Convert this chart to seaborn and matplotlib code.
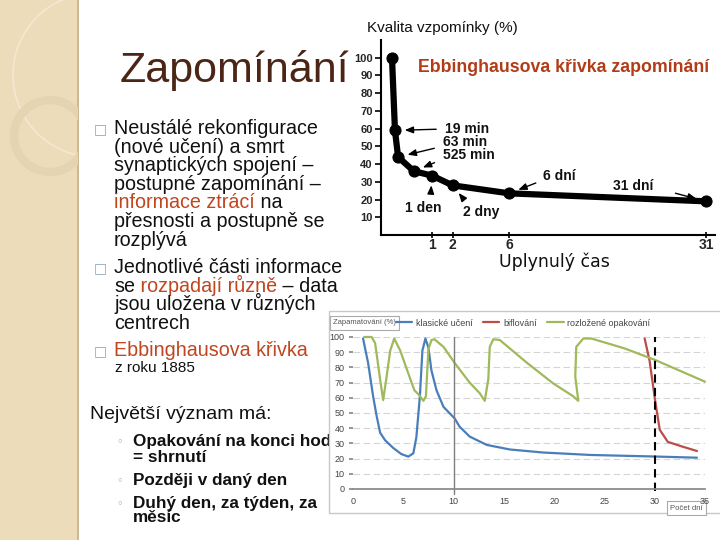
import numpy as np
import pandas as pd
import matplotlib
matplotlib.use('Agg')
import matplotlib.pyplot as plt
import seaborn as sns
from matplotlib.patches import Rectangle, Circle

# Ebbinghaus curve (top chart)
ebb_minutes = [0, 19, 63, 525, 1440, 2880, 8640, 44640]
ebb_recall = [100, 59, 44, 36, 33.5, 28, 23.5, 19]
ebb_notes = ['19 min', '63 min', '525 min', '1 den', '2 dny', '6 dní', '31 dní']
ebb_ticks = [1, 2, 6, 31]

# Excel chart (bottom) - three learning strategies
classic_day = [1.0, 1.5, 2.0, 2.35, 2.7, 3.2, 4.0, 4.8, 5.5, 6.0, 6.3, 6.65, 6.9, 7.2,
               7.5, 7.8, 8.3, 9.0, 10.1, 10.6, 11.6, 13.3, 15.6, 18.9, 23.6, 30.4, 34.2]
classic_val = [99, 83, 61, 48, 37, 32, 27, 23, 21.3, 23.5, 34, 61, 91, 99,
               93, 78, 65, 54, 46.5, 41, 34.5, 29, 26, 24, 22.4, 21.3, 20.6]
cram_day = [29.0, 29.5, 30.0, 30.5, 31.3, 32.7, 34.2]
cram_val = [99, 84, 60, 39, 31, 28, 25]
spaced_day = [1.1, 1.85, 2.2, 2.7, 3.0, 3.3, 3.7, 4.1, 4.7, 5.5, 6.1, 6.55, 7.0, 7.25,
              7.5, 7.8, 8.1, 9.0, 10.1, 11.6, 12.6, 13.1, 13.45, 13.6, 13.95, 14.6,
              17.3, 19.9, 21.9, 22.4, 22.1, 22.2, 22.9, 23.7, 27.0, 30.0, 35.0]
spaced_val = [100, 100, 96, 72, 58.5, 72, 91, 99, 91, 76, 65, 62, 58, 61,
              92, 98, 98.5, 93.5, 83, 70, 63, 58, 72, 93.5, 98.5, 98,
              83, 69.5, 61, 58, 74, 93.5, 99, 99, 92.5, 85, 70.6]
series_names = ['klasické učení', 'biflování', 'rozložené opakování']
series_colors = ['#4a7ebb', '#be4b48', '#9fb95b']

sns.set_theme(style='white')
plt.rcParams['font.family'] = ['Liberation Sans', 'DejaVu Sans']

RED = '#c0461f'
fig = plt.figure(figsize=(7.2, 5.4), dpi=100)

# ---- slide background (pixel coordinates) ----
bg = fig.add_axes([0, 0, 1, 1], zorder=0)
bg.set_xlim(0, 720)
bg.set_ylim(540, 0)
bg.axis('off')

strip = Rectangle((0, 0), 78, 540, fc='#ecdcb9', ec='none')
bg.add_patch(strip)
bg.add_patch(Rectangle((77, 0), 2, 540, fc='#cdb892', ec='none'))
c1 = Circle((95, 75), 82, fill=False, ec='#f3e8d2', lw=1.2)
c2 = Circle((50, 136), 36, fill=False, ec='#e4d4b2', lw=6)
for c in (c1, c2):
    bg.add_patch(c)
    c.set_clip_path(strip)

bg.text(120, 82, 'Zapomínání', fontsize=31, color='#4b2516', va='baseline')

renderer = fig.canvas.get_renderer()


def text_w(s, **kw):
    t = bg.text(0, 0, s + '|', **kw)
    w1 = t.get_window_extent(renderer).width
    t.remove()
    t = bg.text(0, 0, '|', **kw)
    w2 = t.get_window_extent(renderer).width
    t.remove()
    return w1 - w2


def rich_line(x, y, parts, **kw):
    pre = ''
    for s, col in parts:
        bg.text(x + text_w(pre, **kw), y, s, color=col, va='baseline', ha='left', zorder=3, **kw)
        pre += s


K = '#111111'
lines = [
    (134, [('Neustálé rekonfigurace', K)], True),
    (152.6, [('(nové učení) a smrt', K)], False),
    (171.2, [('synaptických spojení –', K)], False),
    (189.8, [('postupné zapomínání –', K)], False),
    (208.4, [('informace ztrácí', RED), (' na', K)], False),
    (227, [('přesnosti a postupně se', K)], False),
    (245.6, [('rozplývá', K)], False),
    (273, [('Jednotlivé části informace', K)], True),
    (291.6, [('se', K), (' rozpadají různě', RED), (' – data', K)], False),
    (310.2, [('jsou uložena v různých', K)], False),
    (328.8, [('centrech', K)], False),
    (356, [('Ebbinghausova křivka', RED)], True),
]
for y, parts, bullet in lines:
    rich_line(114, y, parts, fontsize=14.2)
    if bullet:
        bg.text(100, y - 5, '\u25a1', fontsize=10, color='#8ea6b9', ha='center', va='center',
                family='DejaVu Sans')
bg.text(115, 372, 'z roku 1885', fontsize=11, color=K, va='baseline')

bg.text(90, 419, 'Největší význam má:', fontsize=14, color=K, va='baseline')
sub = [(446, 'Opakování na konci hod', True), (462, '= shrnutí', False),
       (485, 'Později v daný den', True), (508, 'Duhý den, za týden, za', True),
       (522, 'měsíc', False)]
for y, s, b in sub:
    bg.text(133, y, s, fontsize=12.3, fontweight='bold', color=K, va='baseline', zorder=3)
    if b:
        bg.text(120, y - 4, '\u25e6', fontsize=8, color='#8ea6b9', ha='center', va='center',
                family='DejaVu Sans')

# frame of the bottom chart (covers the text underneath)
bg.add_patch(Rectangle((329, 311), 400, 202, fc='white', ec='#c8c8c8', lw=1, zorder=5))
bg.text(333, 323, 'Zapamatování (%)', fontsize=5.5, color='#555555', va='center', zorder=6,
        bbox=dict(boxstyle='square,pad=0.4', fc='white', ec='#aaaaaa', lw=0.8))
bg.text(670, 508, 'Počet dní', fontsize=5.5, color='#555555', va='center', zorder=6,
        bbox=dict(boxstyle='square,pad=0.4', fc='white', ec='#aaaaaa', lw=0.8))

# ---- top chart: Ebbinghaus curve ----
ax_top = fig.add_axes([381 / 720, 1 - 235 / 540, 334 / 720, 195 / 540], zorder=2)
ax_top.set_facecolor('none')
p = 0.6
ax_top.set_xscale('function', functions=(lambda v: np.sign(v) * np.abs(v) ** p,
                                         lambda v: np.sign(v) * np.abs(v) ** (1 / p)))
ebb = pd.DataFrame({'days': np.array(ebb_minutes) / 1440, 'recall': ebb_recall})
sns.lineplot(data=ebb, x='days', y='recall', ax=ax_top, color='black', lw=4.5,
             marker='o', markersize=8, markeredgecolor='black', clip_on=False)
ax_top.set_xlim(-0.116, 32.5)
ax_top.set_ylim(0, 110)
ax_top.set_xticks(ebb_ticks)
ax_top.set_xticklabels([str(t) for t in ebb_ticks], fontsize=10, fontweight='bold')
ax_top.set_yticks(range(10, 101, 10))
ax_top.set_yticklabels([str(t) for t in range(10, 101, 10)], fontsize=8, fontweight='bold')
ax_top.tick_params(axis='y', direction='out', length=4, width=1.2, color='black', pad=2, left=True)
ax_top.tick_params(axis='x', direction='inout', length=5, width=1.2, color='black', pad=0, bottom=True)
for s in ['top', 'right']:
    ax_top.spines[s].set_visible(False)
for s in ['left', 'bottom']:
    ax_top.spines[s].set_color('black')
    ax_top.spines[s].set_linewidth(1.5)
ax_top.set_xlabel('')
ax_top.set_ylabel('')
ax_top.grid(False)

bg.text(367, 32, 'Kvalita vzpomínky (%)', fontsize=11, color=K, va='baseline')
bg.text(564, 72, 'Ebbinghausova křivka zapomínání', fontsize=12.8, fontweight='bold',
        color='#b23c17', ha='center', va='baseline', zorder=6)
bg.text(554, 267, 'Uplynulý čas', fontsize=12.5, color=K, ha='center', va='baseline',
        family='DejaVu Sans')

ann = [  # (index of point, text pos, ha, relpos, shrinkA)
    (1, (445, 129), 'left', (0, 0.5), 4),
    (2, (443, 142), 'left', (0, 0.2), 4),
    (3, (443, 155), 'left', (0, 0.2), 4),
    (4, (423, 208), 'center', (0.7, 1), 3),
    (5, (481, 212), 'center', (0.15, 1), 3),
    (6, (543, 176), 'left', (0, 0.2), 3),
    (7, (613, 186), 'left', (1, 0.4), 14),
]
for (i, pos, ha, rp, sa), note in zip(ann, ebb_notes):
    ax_top.annotate(note, xy=(ebb['days'][i], ebb['recall'][i]), xytext=pos,
                    textcoords=bg.transData, ha=ha, va='center', fontsize=10,
                    fontweight='bold', color=K,
                    arrowprops=dict(arrowstyle='-|>,head_length=0.5,head_width=0.2',
                                    color='black', lw=1, relpos=rp, shrinkA=sa, shrinkB=7))

# ---- bottom chart: strategies ----
ax_bot = fig.add_axes([353 / 720, 1 - 489 / 540, 352 / 720, 152 / 540], zorder=3)
ax_bot.set_facecolor('none')
for dx, dy, name, col in zip([classic_day, cram_day, spaced_day],
                             [classic_val, cram_val, spaced_val],
                             series_names, series_colors):
    sns.lineplot(x=dx, y=dy, sort=False, estimator=None, ax=ax_bot, color=col, lw=1.6,
                 label=name, clip_on=False)
ax_bot.axvline(10, ymin=-0.03, ymax=1, color='#7f7f7f', lw=1, clip_on=False)
ax_bot.axvline(30, ymin=-0.01, ymax=1, color='black', lw=1.5, ls=(0, (4, 2.5)), clip_on=False)
ax_bot.set_xlim(0, 35)
ax_bot.set_ylim(0, 100)
ax_bot.set_xticks(range(0, 36, 5))
ax_bot.set_yticks(range(0, 101, 10))
ax_bot.tick_params(axis='both', labelsize=6.5, labelcolor='#444444', colors='#888888')
ax_bot.tick_params(axis='y', direction='out', length=3, left=True, pad=3)
ax_bot.tick_params(axis='x', length=0, pad=6)
ax_bot.yaxis.grid(True, color='#d5d5d5', ls=(0, (6, 3)), lw=0.8)
ax_bot.xaxis.grid(False)
for s in ['top', 'right', 'left']:
    ax_bot.spines[s].set_visible(False)
ax_bot.spines['bottom'].set_color('#888888')
ax_bot.set_xlabel('')
ax_bot.set_ylabel('')
ax_bot.legend(loc='center', bbox_to_anchor=(523 / 720, 1 - 323 / 540), bbox_transform=fig.transFigure,
              ncol=3, frameon=False, fontsize=6.5, handlelength=1.8, columnspacing=1.2,
              handletextpad=0.4, labelcolor='#444444')

fig.savefig('out.png', dpi=100)
